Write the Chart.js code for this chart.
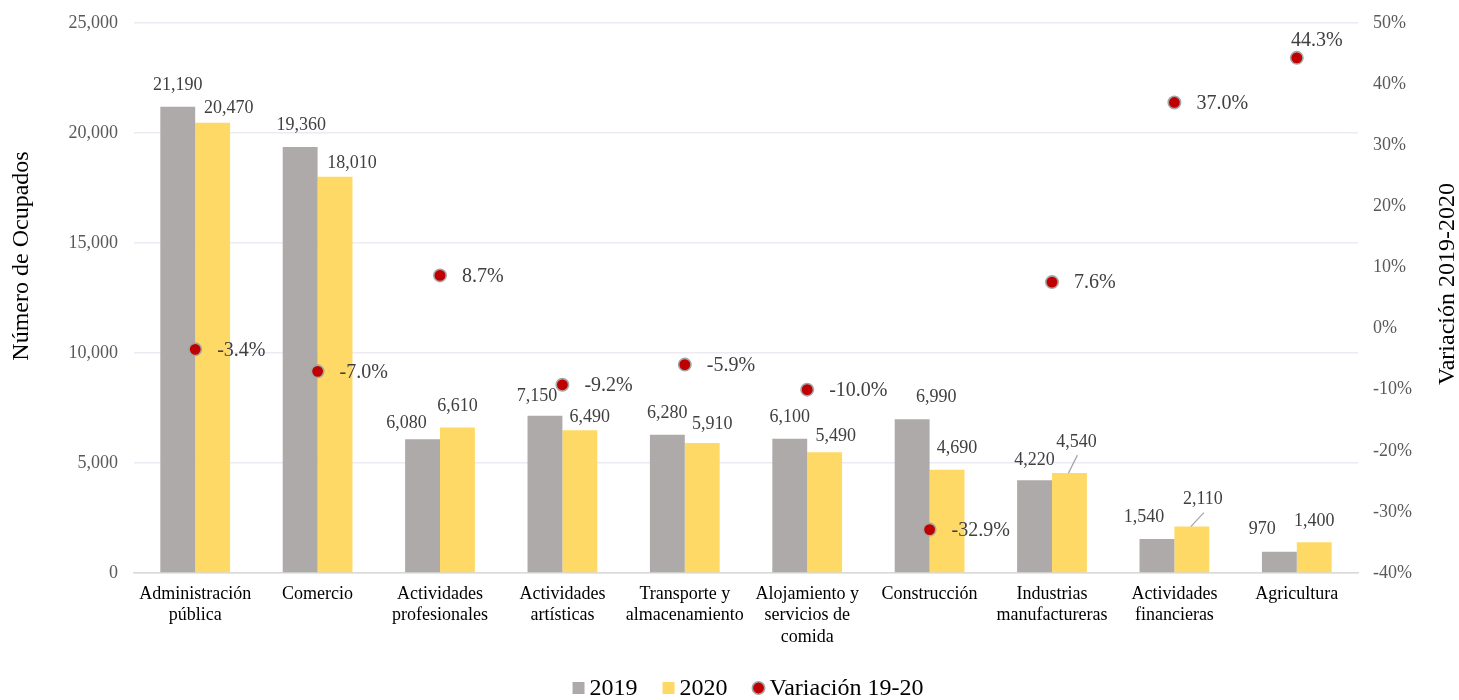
<!DOCTYPE html>
<html>
<head>
<meta charset="utf-8">
<script src="https://cdn.jsdelivr.net/npm/chart.js@4"></script>
<style>
  body { margin: 0; background: #fff; }
  #wrap { width: 1459px; height: 700px; }
</style>
</head>
<body>
<div id="wrap"><canvas id="chart" width="1459" height="700"></canvas></div>
<script>
// categories and values
const categories = [
  ["Administración", "pública"],
  ["Comercio"],
  ["Actividades", "profesionales"],
  ["Actividades", "artísticas"],
  ["Transporte y", "almacenamiento"],
  ["Alojamiento y", "servicios de", "comida"],
  ["Construcción"],
  ["Industrias", "manufactureras"],
  ["Actividades", "financieras"],
  ["Agricultura"]
];
const ocupados2019 = [21190, 19360, 6080, 7150, 6280, 6100, 6990, 4220, 1540, 970];
const ocupados2020 = [20470, 18010, 6610, 6490, 5910, 5490, 4690, 4540, 2110, 1400];
const variacion = [-3.4, -7.0, 8.7, -9.2, -5.9, -10.0, -32.9, 7.6, 37.0, 44.3];

// label nudges (px) relative to bar top, as placed in the original
const nudge2019 = [[0,-22],[1,-22],[-16,-16],[-8,-19],[0,-22],[0,-22],[24,-22],[0,-20],[-13,-22],[-17,-22]];
const nudge2020 = [[16,-14],[17,-14],[0,-21],[10,-13],[10,-19],[11,-16],[10,-22],[7,-31],[11,-27],[0,-21]];
const leader2020 = [7, 8];

const serif = "'Liberation Serif', 'Times New Roman', serif";
const gray = "#AEAAAA";
const yellow = "#FFD966";
const red = "#C00000";
const dotBorder = "#A5A5A5";

function drawDot(ctx, x, y) {
  ctx.beginPath();
  ctx.arc(x, y, 6.2, 0, Math.PI * 2);
  ctx.fillStyle = red;
  ctx.fill();
  ctx.lineWidth = 1.6;
  ctx.strokeStyle = dotBorder;
  ctx.stroke();
}

// bar values, percent labels, axis titles and legend
const extras = {
  id: "extras",
  afterDatasetsDraw(chart) {
    const ctx = chart.ctx;
    ctx.save();
    ctx.fillStyle = "#404040";
    ctx.textBaseline = "middle";
    ctx.textAlign = "center";
    ctx.font = "18px " + serif;
    [[0, nudge2019], [1, nudge2020]].forEach(([di, nudges]) => {
      const meta = chart.getDatasetMeta(di);
      meta.data.forEach((bar, i) => {
        const v = chart.data.datasets[di].data[i];
        const tx = bar.x + nudges[i][0];
        const ty = bar.y + nudges[i][1];
        ctx.fillText(v.toLocaleString("en-US"), tx, ty);
        if (di === 1 && leader2020.includes(i)) {
          ctx.strokeStyle = "#A6A6A6";
          ctx.lineWidth = 1.3;
          ctx.beginPath();
          ctx.moveTo(bar.x - 1, bar.y);
          ctx.lineTo(tx + 1, ty + 13);
          ctx.stroke();
        }
      });
    });
    ctx.font = "20px " + serif;
    chart.getDatasetMeta(2).data.forEach((pt, i) => {
      const txt = variacion[i].toFixed(1) + "%";
      if (i === variacion.length - 1) {
        ctx.textAlign = "center";
        ctx.fillText(txt, pt.x + 20, pt.y - 17);
      } else {
        ctx.textAlign = "left";
        ctx.fillText(txt, pt.x + 22, pt.y + 1);
      }
    });
    ctx.restore();
  },
  afterDraw(chart) {
    const ctx = chart.ctx;
    ctx.save();
    ctx.fillStyle = "#000";
    ctx.textBaseline = "middle";
    ctx.textAlign = "center";
    ctx.font = "24px " + serif;
    // both titles read bottom to top
    [["Número de Ocupados", 22, 256], ["Variación 2019-2020", 1448, 284]].forEach(([t, x, y]) => {
      ctx.save();
      ctx.translate(x, y);
      ctx.rotate(-Math.PI / 2);
      ctx.fillText(t, 0, 0);
      ctx.restore();
    });

    // legend
    ctx.font = "24px " + serif;
    ctx.textAlign = "left";
    const items = chart.data.datasets.map(d => d.label);
    const widths = items.map(t => 12 + 5 + ctx.measureText(t).width);
    const total = widths.reduce((a, b) => a + b, 0) + 25 * (items.length - 1);
    let x = 748 - total / 2;
    const ly = 688;
    items.forEach((t, i) => {
      if (i === 0 || i === 1) {
        ctx.fillStyle = i === 0 ? gray : yellow;
        ctx.fillRect(x, ly - 6, 12, 12);
      } else {
        drawDot(ctx, x + 6, ly);
      }
      ctx.fillStyle = "#000";
      ctx.fillText(t, x + 17, ly + 1);
      x += widths[i] + 25;
    });
    ctx.restore();
  }
};

// keep the tick-label overhang from pushing the plot area down
function fixVertical(width) {
  return scale => {
    scale.width = width;
    scale.paddingTop = 0;
    scale.paddingBottom = 0;
  };
}

new Chart(document.getElementById("chart"), {
  type: "bar",
  data: {
    labels: categories,
    datasets: [
      {
        label: "2019",
        data: ocupados2019,
        backgroundColor: gray,
        yAxisID: "y",
        categoryPercentage: 0.57,
        barPercentage: 1,
        order: 1
      },
      {
        label: "2020",
        data: ocupados2020,
        backgroundColor: yellow,
        yAxisID: "y",
        categoryPercentage: 0.57,
        barPercentage: 1,
        order: 1
      },
      {
        type: "line",
        label: "Variación 19-20",
        data: variacion,
        yAxisID: "y2",
        showLine: false,
        pointRadius: 6.2,
        pointBackgroundColor: red,
        pointBorderColor: dotBorder,
        pointBorderWidth: 1.6,
        backgroundColor: red,
        borderColor: dotBorder,
        order: 0
      }
    ]
  },
  options: {
    responsive: false,
    animation: false,
    layout: { padding: { top: 23, left: 0, right: 0, bottom: 0 }, autoPadding: false },
    plugins: {
      tooltip: { enabled: false },
      legend: { display: false }
    },
    scales: {
      x: {
        grid: { display: false, drawTicks: false },
        border: { display: true, color: "#D9D9D9", width: 1.5 },
        ticks: {
          color: "#000",
          font: { family: serif, size: 18 },
          padding: 10,
          maxRotation: 0,
          autoSkip: false
        },
        afterFit(scale) { scale.height = 127; }
      },
      y: {
        position: "left",
        min: 0,
        max: 25000,
        grid: { color: "#EEEAF3", lineWidth: 1.5, drawTicks: false },
        border: { display: false },
        ticks: {
          stepSize: 5000,
          color: "#595959",
          font: { family: serif, size: 18 },
          padding: 16,
          callback: v => v.toLocaleString("en-US")
        },
        afterFit: fixVertical(134)
      },
      y2: {
        position: "right",
        min: -40,
        max: 50,
        grid: { display: false, drawTicks: false },
        border: { display: false },
        ticks: {
          stepSize: 10,
          color: "#595959",
          font: { family: serif, size: 18 },
          padding: 15,
          callback: v => v + "%"
        },
        afterFit: fixVertical(101)
      }
    }
  },
  plugins: [extras]
});
</script>
</body>
</html>
